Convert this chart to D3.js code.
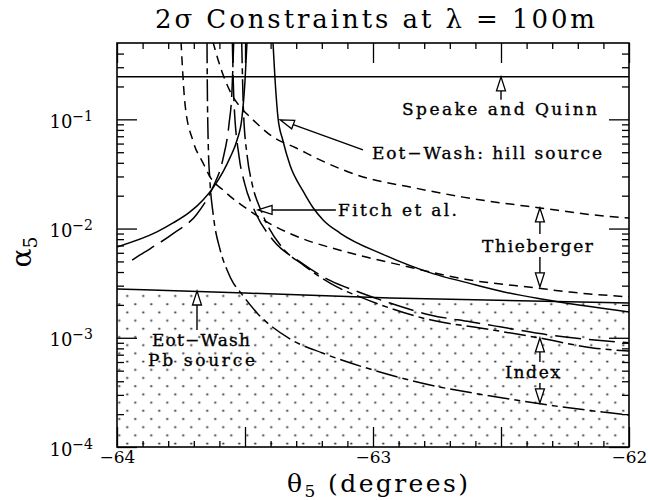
<!DOCTYPE html>
<html><head><meta charset="utf-8">
<script src="https://cdn.jsdelivr.net/npm/d3@7/dist/d3.min.js"></script>
<style>
body{margin:0;background:#fff;}
text{font-family:"DejaVu Serif",serif;fill:#000;}
</style></head><body><svg id="c" width="648" height="500"></svg>
<script>
// ---------- data ----------
const xMajorTicks = [-64, -63.5, -63, -62.5, -62];
const xLabelTicks = [-64, -63, -62];
const yMajorTicks = [1e-4, 1e-3, 1e-2, 1e-1];

const speakeTheta = [-64, -62];
const speakeAlpha = [0.245, 0.245];

const pbTheta = [-64, -63.5, -62.934, -62];
const pbAlpha = [2.80e-3, 2.57e-3, 2.31e-3, 2.08e-3];

const hillLeftTheta = [-64.000, -63.844, -63.781, -63.715, -63.664, -63.625, -63.586, -63.559, -63.531, -63.512, -63.500, -63.492];
const hillLeftAlpha = [6.79e-3, 9.31e-3, 1.125e-2, 1.42e-2, 1.83e-2, 2.36e-2, 3.30e-2, 4.44e-2, 6.47e-2, 0.103, 0.225, 0.52];

const hillRightTheta = [-63.391, -63.383, -63.371, -63.352, -63.324, -63.273, -63.234, -63.195, -63.129, -62.961, -62.766, -62.633, -62.492, -62.336, -62.0];
const hillRightAlpha = [0.52, 0.239, 0.103, 6.4e-2, 3.8e-2, 2.2e-2, 1.55e-2, 1.2e-2, 9.1e-3, 5.8e-3, 3.87e-3, 3.2e-3, 2.64e-3, 2.25e-3, 1.72e-3];

const thiebLowTheta = [-63.750, -63.734, -63.703, -63.664, -63.629, -63.590, -63.547, -63.500, -63.391, -63.324, -63.258, -63.156, -63.023, -62.895, -62.766, -62.633, -62.359, -62.230, -62.0];
const thiebLowAlpha = [0.52, 0.1355, 0.0634, 3.99e-2, 2.79e-2, 2.30e-2, 1.88e-2, 1.56e-2, 1.07e-2, 9.0e-3, 7.8e-3, 6.6e-3, 5.45e-3, 4.65e-3, 3.95e-3, 3.42e-3, 2.85e-3, 2.62e-3, 2.37e-3];

const thiebUpTheta = [-63.626, -63.605, -63.578, -63.551, -63.508, -63.480, -63.391, -63.300, -63.207, -63.039, -62.855, -62.648, -62.348, -62.063, -62.0];
const thiebUpAlpha = [0.52, 0.35, 0.230, 0.167, 0.122, 0.105, 6.9e-2, 5.47e-2, 4.25e-2, 2.97e-2, 2.40e-2, 1.94e-2, 1.545e-2, 1.28e-2, 1.25e-2];

const fitchLeftTheta = [-63.941, -63.910, -63.781, -63.6875, -63.625, -63.586, -63.5625, -63.551, -63.544];
const fitchLeftAlpha = [5.15e-3, 5.73e-3, 9.0e-3, 1.36e-2, 2.4e-2, 4.35e-2, 9.0e-2, 0.18, 0.52];

const fitchRightTheta = [-63.5495, -63.5434, -63.523, -63.502, -63.4585, -63.391, -63.285, -63.168, -63.051, -62.934, -62.777, -62.621, -62.504, -62.309, -62.0];
const fitchRightAlpha = [0.52, 0.151, 4.53e-2, 2.62e-2, 1.39e-2, 7.87e-3, 4.95e-3, 3.35e-3, 2.60e-3, 2.08e-3, 1.62e-3, 1.40e-3, 1.26e-3, 1.06e-3, 9.0e-4];

const indexUpTheta = [-63.5129, -63.506, -63.491, -63.473, -63.434, -63.352, -63.273, -63.141, -63.051, -62.934, -62.777, -62.582, -62.348, -62.141, -62.0];
const indexUpAlpha = [0.52, 0.12, 4.53e-2, 2.62e-2, 1.40e-2, 6.6e-3, 4.65e-3, 2.92e-3, 2.37e-3, 1.87e-3, 1.46e-3, 1.23e-3, 9.95e-4, 8.07e-4, 7.57e-4];

const indexLowTheta = [-63.6484, -63.6475, -63.643, -63.638, -63.623, -63.597, -63.570, -63.546, -63.525, -63.453, -63.317, -63.198, -63.000, -62.777, -62.516, -62.320, -62.102, -62.0];
const indexLowAlpha = [0.52, 0.244, 5.25e-2, 2.97e-2, 1.28e-2, 6.37e-3, 4.18e-3, 3.18e-3, 2.74e-3, 1.69e-3, 9.55e-4, 7.26e-4, 5.07e-4, 3.70e-4, 2.87e-4, 2.43e-4, 2.09e-4, 1.96e-4];

// annotation arrows: [tailTheta, tailAlpha, tipTheta, tipAlpha]
const arrowSpeake = [-62.5, 0.151, -62.5, 0.245];
const arrowHill = [-63.039, 0.0525, -63.363, 0.099];
const arrowFitch = [-63.145, 0.0148, -63.449, 0.0148];
const arrowThiebUp = [-62.348, 8.93e-3, -62.348, 1.545e-2];
const arrowThiebDown = [-62.348, 5.5e-3, -62.348, 2.92e-3];
const arrowIndexUp = [-62.348, 6.0e-4, -62.348, 9.96e-4];
const arrowIndexDown = [-62.348, 3.86e-4, -62.348, 2.53e-4];
const arrowPb = [-63.6875, 1.18e-3, -63.6875, 2.68e-3];

// ---------- chart ----------
const svg = d3.select('#c');
const L = 117, R = 629, T = 43, B = 447;
const x = d3.scaleLinear().domain([-64, -62]).range([L, R]);
const y = d3.scaleLog().domain([1e-4, 0.5]).range([B, T]);
const zip = (a, b) => a.map((v, i) => [v, b[i]]);

const defs = svg.append('defs');
defs.append('clipPath').attr('id', 'plot').append('rect')
  .attr('x', L).attr('y', T).attr('width', R - L).attr('height', B - T);
const pat = defs.append('pattern').attr('id', 'stip').attr('patternUnits', 'userSpaceOnUse')
  .attr('width', 16).attr('height', 16.4).attr('x', 3.3).attr('y', 5);
[[4, 4], [12, 12.2]].forEach(([px, py]) => {
  pat.append('path').attr('d', `M${px - 1.2},${py}h2.4M${px},${py - 1.2}v2.4`)
    .attr('stroke', '#000').attr('stroke-width', 0.7);
});

const plot = svg.append('g').attr('clip-path', 'url(#plot)');

// stippled region below Pb line
const pbData = zip(pbTheta, pbAlpha);
plot.append('path').datum(pbData)
  .attr('d', d3.area().x(d => x(d[0])).y0(B).y1(d => y(d[1])))
  .attr('fill', 'url(#stip)');

const line = d3.line().x(d => x(d[0])).y(d => y(d[1])).curve(d3.curveMonotoneX);
function curve(th, al, dash) {
  plot.append('path').datum(zip(th, al)).attr('d', line)
    .attr('fill', 'none').attr('stroke', '#000').attr('stroke-width', 1.5)
    .attr('stroke-dasharray', dash || null);
}
curve(speakeTheta, speakeAlpha);
curve(pbTheta, pbAlpha);
curve(hillLeftTheta, hillLeftAlpha);
curve(hillRightTheta, hillRightAlpha);
curve(thiebLowTheta, thiebLowAlpha, '9,6');
curve(thiebUpTheta, thiebUpAlpha, '9,6');
curve(fitchLeftTheta, fitchLeftAlpha, '26,8');
curve(fitchRightTheta, fitchRightAlpha, '26,8');
curve(indexUpTheta, indexUpAlpha, '22,5,6,5');
curve(indexLowTheta, indexLowAlpha, '22,5,6,5');

// ---------- axes ----------
const xMinor = d3.range(-64, -61.99, 0.1).map(v => +v.toFixed(1)).filter(v => !xMajorTicks.includes(v));
const yMinor = [];
[-4, -3, -2, -1].forEach(e => { for (let m = 2; m <= 9; m++) { const v = m * Math.pow(10, e); if (v < 0.49) yMinor.push(v); } });
const minus = d => (d < 0 ? '\u2212' + Math.abs(d) : '' + d);

function styleAxis(g) {
  g.select('.domain').remove();
  g.selectAll('line').attr('stroke', '#000').attr('stroke-width', 1.3);
}
// bottom
svg.append('g').attr('transform', `translate(0,${B})`)
  .call(d3.axisBottom(x).tickValues(xMinor).tickSize(-6).tickSizeOuter(0).tickFormat(''))
  .call(styleAxis);
const gxb = svg.append('g').attr('transform', `translate(0,${B})`)
  .call(d3.axisBottom(x).tickValues(xMajorTicks).tickSize(-20).tickSizeOuter(0).tickPadding(4)
    .tickFormat(d => xLabelTicks.includes(d) ? minus(d) : ''))
  .call(styleAxis);
gxb.selectAll('text').attr('font-size', 17).attr('font-family', '"DejaVu Serif",serif').attr('fill', '#000');
// top
svg.append('g').attr('transform', `translate(0,${T})`)
  .call(d3.axisTop(x).tickValues(xMinor).tickSize(-6).tickSizeOuter(0).tickFormat(''))
  .call(styleAxis);
svg.append('g').attr('transform', `translate(0,${T})`)
  .call(d3.axisTop(x).tickValues(xMajorTicks).tickSize(-20).tickSizeOuter(0).tickFormat(''))
  .call(styleAxis);
// left
svg.append('g').attr('transform', `translate(${L},0)`)
  .call(d3.axisLeft(y).tickValues(yMinor).tickSize(-7).tickSizeOuter(0).tickFormat(''))
  .call(styleAxis);
const gyl = svg.append('g').attr('transform', `translate(${L},0)`)
  .call(d3.axisLeft(y).tickValues(yMajorTicks).tickSize(-20).tickSizeOuter(0).tickPadding(24)
    .tickFormat(d => String(Math.round(Math.log10(d)))))
  .call(styleAxis);
gyl.selectAll('text').each(function () {
  const t = d3.select(this);
  const e = +t.text();
  t.text(null).attr('font-size', 18).attr('font-family', '"DejaVu Serif",serif').attr('fill', '#000').attr('dy', '0.45em');
  t.append('tspan').text('10');
  t.append('tspan').attr('font-size', 14).attr('dy', -7).text(minus(e));
});
// right
svg.append('g').attr('transform', `translate(${R},0)`)
  .call(d3.axisRight(y).tickValues(yMinor).tickSize(-7).tickSizeOuter(0).tickFormat(''))
  .call(styleAxis);
svg.append('g').attr('transform', `translate(${R},0)`)
  .call(d3.axisRight(y).tickValues(yMajorTicks).tickSize(-20).tickSizeOuter(0).tickFormat(''))
  .call(styleAxis);
// frame
svg.append('rect').attr('x', L).attr('y', T).attr('width', R - L).attr('height', B - T)
  .attr('fill', 'none').attr('stroke', '#000').attr('stroke-width', 1.6);

// ---------- titles ----------
svg.append('text').attr('x', 375).attr('y', 28).attr('text-anchor', 'middle')
  .attr('font-size', 26).attr('textLength', 440).attr('lengthAdjust', 'spacing')
  .text('2\u03c3 Constraints at \u03bb = 100m');
const xl = svg.append('text').attr('x', 287).attr('y', 492).attr('font-size', 25)
  .attr('textLength', 181).attr('lengthAdjust', 'spacing');
xl.append('tspan').text('\u03b8');
xl.append('tspan').attr('font-size', 17).attr('dy', 5).text('5');
xl.append('tspan').attr('dy', -5).text(' (degrees)');
const yl = svg.append('text').attr('transform', 'translate(31,252) rotate(-90)').attr('text-anchor', 'middle')
  .attr('font-size', 28);
yl.append('tspan').text('\u03b1');
yl.append('tspan').attr('font-size', 19).attr('dy', 6).text('5');

// ---------- annotations ----------
const ann = svg.append('g');
function label(txt, px, py, w) {
  ann.append('text').attr('x', px).attr('y', py).attr('font-size', 17)
    .attr('stroke', '#000').attr('stroke-width', 0.35)
    .attr('textLength', w).attr('lengthAdjust', 'spacing').text(txt);
}
label('Speake and Quinn', 402, 115, 195);
label('Eot\u2212Wash: hill source', 372, 159, 230);
label('Fitch et al.', 338, 216, 119);
label('Thieberger', 482, 252, 111);
label('Index', 505, 378, 55);
label('Eot\u2212Wash', 152, 346, 98);
label('Pb source', 148, 366, 107);

function arrow(a) {
  const x1 = x(a[0]), y1 = y(a[1]), x2 = x(a[2]), y2 = y(a[3]);
  const dx = x2 - x1, dy = y2 - y1, len = Math.hypot(dx, dy), ux = dx / len, uy = dy / len;
  const hl = 14, hw = 4.5;
  const bx = x2 - ux * hl, by = y2 - uy * hl;
  ann.append('line').attr('x1', x1).attr('y1', y1).attr('x2', bx).attr('y2', by)
    .attr('stroke', '#000').attr('stroke-width', 1.4);
  ann.append('path').attr('d', `M${x2},${y2}L${bx - uy * hw},${by + ux * hw}L${bx + uy * hw},${by - ux * hw}Z`)
    .attr('fill', '#fff').attr('stroke', '#000').attr('stroke-width', 1.3);
}
[arrowSpeake, arrowHill, arrowFitch, arrowThiebUp, arrowThiebDown, arrowIndexUp, arrowIndexDown, arrowPb].forEach(arrow);
</script></body></html>
